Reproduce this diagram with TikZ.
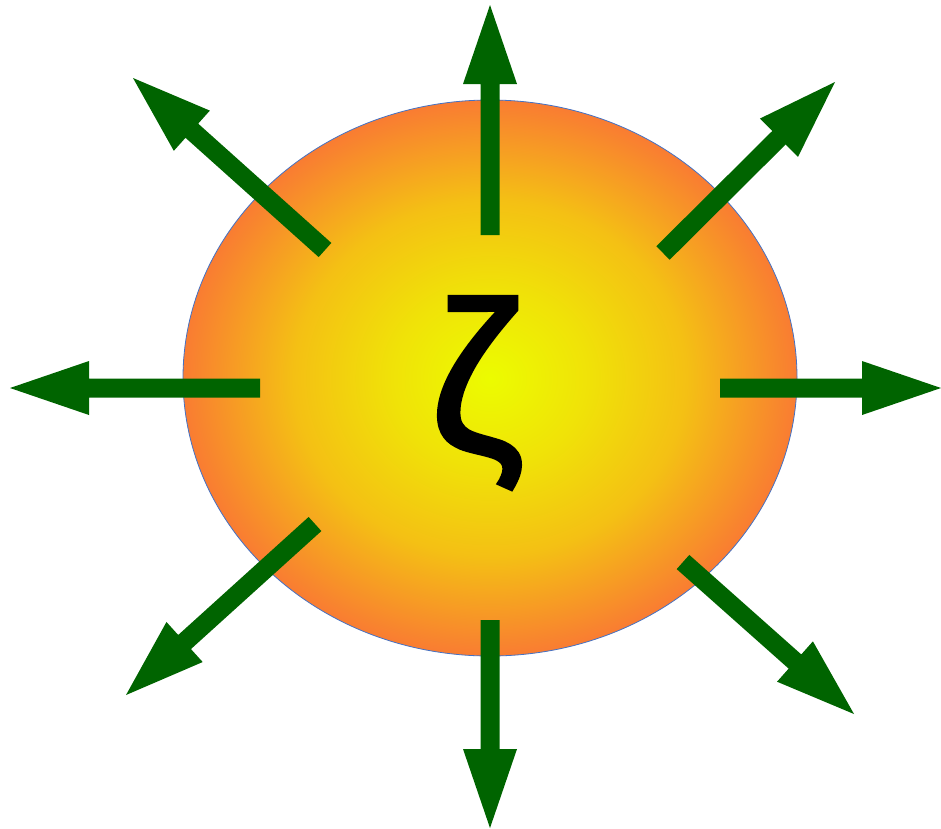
\documentclass[tikz,border=0pt]{standalone}
\usepackage{fontspec}
\newfontfamily\zetafont[FakeBold=1.6]{Liberation Sans}
\usetikzlibrary{calc}
\definecolor{sunA}{RGB}{236,252,0}
\definecolor{sunM}{RGB}{240,226,8}
\definecolor{sunB}{RGB}{244,192,20}
\definecolor{sunC}{RGB}{249,124,50}
\definecolor{rimblue}{RGB}{68,114,196}
\definecolor{arrowgreen}{RGB}{0,100,0}
\pgfdeclareradialshading{sunshade}{\pgfpoint{0bp}{0bp}}{color(0bp)=(sunA); color(8bp)=(sunM); color(16bp)=(sunB); color(25bp)=(sunC); color(50bp)=(sunC)}
\tikzset{
  sun/.style={draw=rimblue, line width=0.8pt, shading=sunshade},
  greenarrow/.style={fill=arrowgreen, draw=none},
}
% #1 start, #2 tip
\newcommand{\fatarrow}[2]{%
  \path[greenarrow]
    ($(#1)!9.5pt!90:(#2)$) --
    ($($(#2)!79pt!(#1)$)!9.5pt!-90:(#1)$) --
    ($($(#2)!79pt!(#1)$)!27pt!-90:(#1)$) --
    (#2) --
    ($($(#2)!79pt!(#1)$)!27pt!90:(#1)$) --
    ($($(#2)!79pt!(#1)$)!9.5pt!90:(#1)$) --
    ($(#1)!9.5pt!-90:(#2)$) -- cycle;}
\begin{document}
\begin{tikzpicture}[x=1pt,y=-1pt]
\useasboundingbox (0,0) rectangle (941,828);
\path[sun] (490,378) ellipse [x radius=307, y radius=278];
\node[inner sep=0pt, font=\zetafont\fontsize{215}{215}\selectfont] (zeta) at (477,393) {ζ};
% arrows: start / tip
\coordinate (sN) at (490,235);  \coordinate (tN) at (490,5);
\coordinate (sS) at (490,620);  \coordinate (tS) at (490,828);
\coordinate (sW) at (260,388);  \coordinate (tW) at (10,388);
\coordinate (sE) at (720,388);  \coordinate (tE) at (941,388);
\coordinate (sNW) at (325,250); \coordinate (tNW) at (133,78);
\coordinate (sNE) at (663,253); \coordinate (tNE) at (835,82);
\coordinate (sSW) at (315,524); \coordinate (tSW) at (126,695);
\coordinate (sSE) at (683,562); \coordinate (tSE) at (854,714);
\fatarrow{sN}{tN}
\fatarrow{sS}{tS}
\fatarrow{sW}{tW}
\fatarrow{sE}{tE}
\fatarrow{sNW}{tNW}
\fatarrow{sNE}{tNE}
\fatarrow{sSW}{tSW}
\fatarrow{sSE}{tSE}
\end{tikzpicture}
\end{document}
